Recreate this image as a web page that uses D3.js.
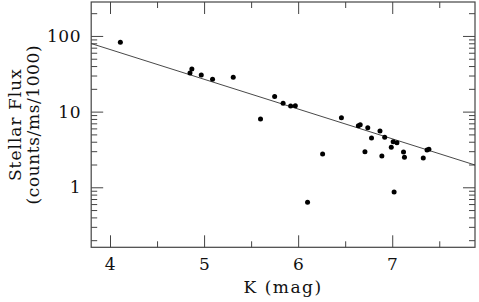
<!DOCTYPE html>
<html lang="en">
    <head>
        <meta charset="utf-8">
        <title>Stellar Flux vs K</title>
        <script src="https://cdn.jsdelivr.net/npm/d3@7"></script>
        <style>
            body { margin: 0; background: #fff; }
            text { font-family: "DejaVu Serif", serif; fill: #111; }
        </style>
    </head>
    <body>
        <script>
            // data
            var starK = [4.11, 4.85, 4.87, 4.97, 5.09, 5.31, 5.75, 5.84, 5.92, 5.97,
                         5.60, 6.46, 6.64, 6.66, 6.74, 6.87, 6.78, 6.92, 7.01, 7.05,
                         6.99, 6.71, 6.89, 7.12, 7.13, 7.33, 7.37, 7.39, 6.26, 6.10, 7.02];
            var starFlux = [82.3, 32.4, 36.5, 30.4, 26.7, 28.4, 15.9, 12.9, 11.9, 12.0,
                            7.98, 8.30, 6.51, 6.71, 6.13, 5.54, 4.48, 4.58, 4.00, 3.88,
                            3.38, 2.95, 2.59, 2.93, 2.49, 2.44, 3.11, 3.18, 2.75, 0.634, 0.867];
            // fitted line end points
            var lineK = [3.8, 7.88];
            var lineFlux = [79.4, 1.97];

            var xMajor = [4, 5, 6, 7];
            var xMinor = [4.5, 5.5, 6.5, 7.5];
            var yMajor = [1, 10, 100];
            var yMinor = [0.2, 0.3, 0.4, 0.5, 0.6, 0.7, 0.8, 0.9,
                          2, 3, 4, 5, 6, 7, 8, 9,
                          20, 30, 40, 50, 60, 70, 80, 90, 200];

            var w = 479;
            var h = 302;
            var plotL = 91.2, plotR = 475, plotT = 2, plotB = 247.3;

            var svg = d3.select("body")
                        .append("svg")
                          .attr("width", w)
                          .attr("height", h);

            var xScale = d3.scaleLinear()
                           .domain([3.8, 7.88])
                           .range([plotL, plotR]);

            var yScale = d3.scaleLog()
                           .domain([0.161, 281])
                           .range([plotB, plotT]);

            function styleAxis(g) {
                g.select(".domain").remove();
                g.selectAll("line").attr("stroke", "#444").attr("stroke-width", 1);
                g.selectAll("text")
                 .attr("font-family", "DejaVu Serif, serif")
                 .attr("font-size", 17)
                 .attr("letter-spacing", 0.6)
                 .attr("fill", "#111");
            }

            // bottom / top ticks (inward)
            svg.append("g")
               .attr("transform", "translate(0," + plotB + ")")
               .call(d3.axisBottom(xScale).tickValues(xMajor).tickSize(-12).tickPadding(11)
                       .tickFormat(d3.format("d")))
               .call(styleAxis);
            svg.append("g")
               .attr("transform", "translate(0," + plotB + ")")
               .call(d3.axisBottom(xScale).tickValues(xMinor).tickSize(-6).tickFormat(""))
               .call(styleAxis);
            svg.append("g")
               .attr("transform", "translate(0," + plotT + ")")
               .call(d3.axisTop(xScale).tickValues(xMajor).tickSize(-12).tickFormat(""))
               .call(styleAxis);
            svg.append("g")
               .attr("transform", "translate(0," + plotT + ")")
               .call(d3.axisTop(xScale).tickValues(xMinor).tickSize(-6).tickFormat(""))
               .call(styleAxis);

            // left / right ticks (inward)
            svg.append("g")
               .attr("transform", "translate(" + plotL + ",0)")
               .call(d3.axisLeft(yScale).tickValues(yMajor).tickSize(-12).tickPadding(10)
                       .tickFormat(d3.format("d")))
               .call(styleAxis);
            svg.append("g")
               .attr("transform", "translate(" + plotL + ",0)")
               .call(d3.axisLeft(yScale).tickValues(yMinor).tickSize(-6).tickFormat(""))
               .call(styleAxis);
            svg.append("g")
               .attr("transform", "translate(" + plotR + ",0)")
               .call(d3.axisRight(yScale).tickValues(yMajor).tickSize(-12).tickFormat(""))
               .call(styleAxis);
            svg.append("g")
               .attr("transform", "translate(" + plotR + ",0)")
               .call(d3.axisRight(yScale).tickValues(yMinor).tickSize(-6).tickFormat(""))
               .call(styleAxis);

            // frame
            svg.append("rect")
               .attr("x", plotL)
               .attr("y", plotT)
               .attr("width", plotR - plotL)
               .attr("height", plotB - plotT)
               .attr("fill", "none")
               .attr("stroke", "#444")
               .attr("stroke-width", 1.2);

            // fit line
            var line = d3.line()
                         .x(function(d, i) { return xScale(lineK[i]); })
                         .y(function(d) { return yScale(d); });
            svg.append("path")
               .datum(lineFlux)
               .attr("d", line)
               .attr("fill", "none")
               .attr("stroke", "#333")
               .attr("stroke-width", 0.9);

            // points
            svg.selectAll("circle")
                .data(starFlux)
              .enter()
                .append("circle")
                .attr("cx", function(d, i) { return xScale(starK[i]); })
                .attr("cy", function(d) { return yScale(d); })
                .attr("r", 2.5)
                .attr("fill", "#000");

            // axis titles
            svg.append("text")
               .attr("x", (plotL + plotR) / 2)
               .attr("y", 293)
               .attr("text-anchor", "middle")
               .style("font-size", "17px")
               .style("letter-spacing", "1.5px")
               .text("K (mag)");

            svg.append("text")
               .attr("transform", "translate(21," + ((plotT + plotB) / 2) + ") rotate(-90)")
               .attr("text-anchor", "middle")
               .style("font-size", "17px")
               .style("letter-spacing", "1px")
               .text("Stellar Flux");

            svg.append("text")
               .attr("transform", "translate(39," + ((plotT + plotB) / 2) + ") rotate(-90)")
               .attr("text-anchor", "middle")
               .style("font-size", "17px")
               .style("letter-spacing", "0.6px")
               .text("(counts/ms/1000)");
        </script>
    </body>
</html>
